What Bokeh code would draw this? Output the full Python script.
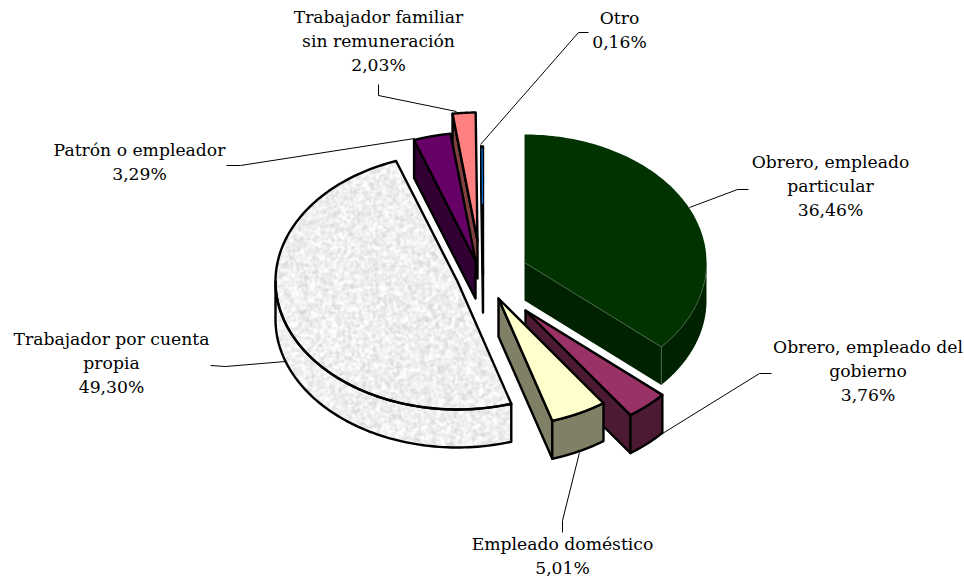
import numpy as np
from bokeh.plotting import figure
from bokeh.models import Range1d
from bokeh.core.properties import value
from bokeh.embed import file_html
from bokeh.resources import INLINE

# --- data ---
names = ["Obrero, empleado particular", "Obrero, empleado del gobierno", "Empleado doméstico",
         "Trabajador por cuenta propia", "Patrón o empleador",
         "Trabajador familiar sin remuneración", "Otro"]
shares = [36.46, 3.76, 5.01, 49.30, 3.29, 2.03, 0.16]
pct_labels = ["36,46%", "3,76%", "5,01%", "49,30%", "3,29%", "2,03%", "0,16%"]
label_lines = [["Obrero, empleado", "particular"], ["Obrero, empleado del", "gobierno"],
               ["Empleado doméstico"], ["Trabajador por cuenta", "propia"],
               ["Patrón o empleador"], ["Trabajador familiar", "sin remuneración"], ["Otro"]]

# --- styles ---
top_colors = ["#003300", "#993366", "#FFFFCC", "#F0F0F0", "#660066", "#FF8080", "#0066CC"]
side_colors = ["#002200", "#4D1A33", "#808066", "#F0F0F0", "#330033", "#804040", "#003366"]
EDGE_W = 2.4
GREEN_EDGE = "#456545"

# --- layout (page pixels) ---
RX, RY, DEPTH = 182, 128, 38
apex_x = [524, 525, 498, 457, 475, 477, 482.5]
apex_y = [262, 310, 298, 281, 260, 240, 274]
draw_order = [6, 5, 4, 3, 0, 1, 2]
label_cx = [830, 867.5, 562, 111, 139, 378, 619]
label_y0 = [161.7, 346.2, 543.7, 338.7, 149.7, 16.7, 17.7]
LINE_H = 24
leaders = [
    ([748, 737, 689], [189, 189, 207]),
    ([771, 759, 662], [373, 373, 433]),
    ([562, 562, 579], [532, 520, 452]),
    ([210, 225, 285], [365, 366, 361]),
    ([226, 240, 414], [165, 165, 138]),
    ([378, 378, 456], [84, 95, 111]),
    ([588, 578, 480], [32, 32, 144]),
]

W, H = 964, 579
p = figure(width=W, height=H, x_range=Range1d(0, W), y_range=Range1d(H, 0),
           x_axis_type=None, y_axis_type=None, toolbar_location=None,
           output_backend="svg", min_border=0, outline_line_color=None)
p.grid.visible = False

# slice angles, clockwise from 12 o'clock
edges = np.cumsum([0.0] + shares)
edges = edges / edges[-1] * 360.0


def rim(ax, ay, t):
    r = np.radians(t)
    return ax + RX * np.sin(r), ay - RY * np.cos(r)


def texture_for(i):
    """Grey mottled fill, deterministic, painted under the outlines of slice i."""
    t1, t2 = edges[i], edges[i + 1]
    ax, ay = apex_x[i], apex_y[i]
    x0, x1 = ax - RX - 2, ax + 60
    y0, y1 = ay - RY - 2, ay + RY + DEPTH + 2
    xs, ys = np.meshgrid(np.arange(x0, x1) + .5, np.arange(y0, y1) + .5)
    mask = np.zeros(xs.shape, bool)
    for s in range(0, DEPTH + 1):
        u = (xs - ax) / RX
        v = (ys - s - ay) / RY
        ang = np.degrees(np.arctan2(u, -v)) % 360
        mask |= (u * u + v * v <= 1) & (ang >= t1) & (ang <= t2)
    h = np.sin(xs * 12.9898 + ys * 78.233) * 43758.5453
    n = h - np.floor(h)
    for _ in range(2):
        n = (n + np.roll(n, 1, 0) + np.roll(n, -1, 0) + np.roll(n, 1, 1) + np.roll(n, -1, 1)) / 5
    g = np.clip(240 + (n - .5) * 100, 208, 255).astype(np.uint32)
    img = (255 << 24) | (g << 16) | (g << 8) | g
    img = np.where(mask, img, 0).astype(np.uint32)
    return img, x0, y0, x1 - x0, y1 - y0


for i in draw_order:
    t1, t2 = edges[i], edges[i + 1]
    ax, ay = apex_x[i], apex_y[i]
    col, side = top_colors[i], side_colors[i]
    # the large green slice has no black outline
    lc = None if i == 0 else "black"
    lw = 0 if i == 0 else EDGE_W
    if i == 3:
        img, ix, iy, iw, ih = texture_for(i)
        p.image_rgba(image=[img], x=ix, y=iy, dw=iw, dh=ih)
    fill_a = 0 if i == 3 else 1
    # radial faces that look at the viewer
    if np.sin(np.radians(t1)) < -1e-9:
        rx_, ry_ = rim(ax, ay, t1)
        p.patch([ax, rx_, rx_, ax], [ay, ry_, ry_ + DEPTH, ay + DEPTH], fill_color=side,
                fill_alpha=fill_a, line_color=lc, line_width=lw, line_join="round")
    if np.sin(np.radians(t2)) > 1e-9:
        rx_, ry_ = rim(ax, ay, t2)
        p.patch([ax, rx_, rx_, ax], [ay, ry_, ry_ + DEPTH, ay + DEPTH], fill_color=side,
                fill_alpha=fill_a, line_color=lc, line_width=lw, line_join="round")
    # outer wall
    a, b = max(t1, 90), min(t2, 270)
    if a < b:
        tt = np.linspace(a, b, 80)
        ex, ey = rim(ax, ay, tt)
        p.patch(list(ex) + list(ex[::-1]), list(ey) + list(ey[::-1] + DEPTH), fill_color=side,
                fill_alpha=fill_a, line_color=lc, line_width=lw, line_join="round")
    # top face
    tt = np.linspace(t1, t2, 120)
    ex, ey = rim(ax, ay, tt)
    p.patch([ax] + list(ex), [ay] + list(ey), fill_color=col, fill_alpha=fill_a,
            line_color=lc, line_width=lw, line_join="round")
    if i == 0:
        # thin lighter creases between the faces of the green slice
        cx_, cy_ = rim(ax, ay, t2)
        p.line([ax, cx_, cx_], [ay, cy_, cy_ + DEPTH], line_color=GREEN_EDGE, line_width=1)
        tt = np.linspace(90, t2, 60)
        ex, ey = rim(ax, ay, tt)
        p.line(ex, ey, line_color=GREEN_EDGE, line_width=0.8)
    if i == 6:
        # the sliver is thinner than its outline: show its colour along the middle
        mx, my = rim(ax, ay, (t1 + t2) / 2)
        p.line([mx, mx + (ax - mx) * .45], [my + 2, my + (ay - my) * .45], line_color=col, line_width=1.3)

# leader lines
for xs, ys in leaders:
    p.line(xs, ys, line_color="black", line_width=1)

# labels
tx, ty, tt_ = [], [], []
for i in range(len(names)):
    lines = label_lines[i] + [pct_labels[i]]
    for j, s in enumerate(lines):
        tx.append(label_cx[i])
        ty.append(label_y0[i] + j * LINE_H)
        tt_.append(s)
p.text(tx, ty, text=tt_, text_font=value("DejaVu Serif"), text_font_size="17.2px",
       text_color="black", text_align="center", text_baseline="middle")

open("out.html", "w").write(file_html(p, INLINE))
